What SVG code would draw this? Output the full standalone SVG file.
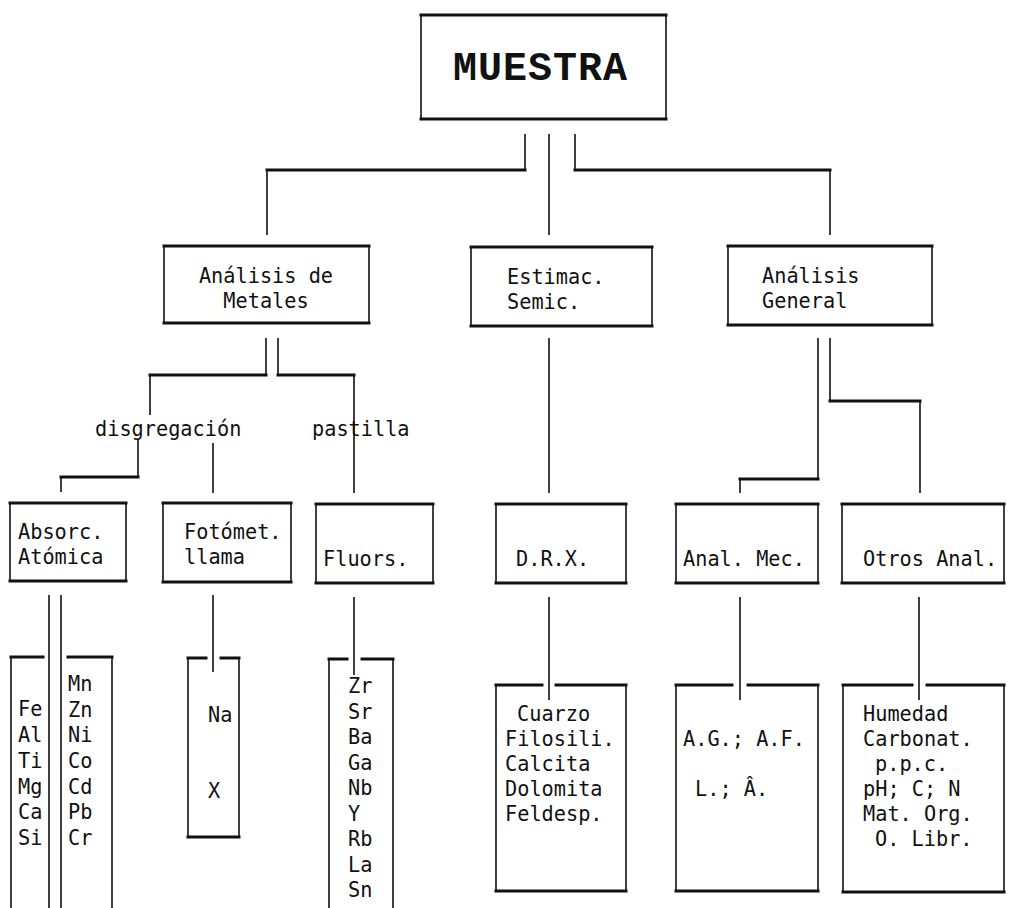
<svg xmlns="http://www.w3.org/2000/svg" width="1011" height="908" viewBox="0 0 1011 908">
<style>
  .bg{fill:#ffffff}
  .b{fill:none;stroke:#111;stroke-width:1.6}
  .hb{fill:none;stroke:#111;stroke-width:3;stroke-linecap:square}
  .v{fill:none;stroke:#111;stroke-width:1.6}
  .h{fill:none;stroke:#111;stroke-width:3;stroke-linecap:square}
  text{font-family:"DejaVu Sans Mono","Liberation Mono",monospace;font-size:21px;fill:#111}
  .t{font-family:"Liberation Mono","DejaVu Sans Mono",monospace;font-weight:bold;font-size:40px}
  .m{text-anchor:middle}
</style>
<rect class="bg" x="0" y="0" width="1011" height="908"/>

<g id="connectors">
  <path class="v" d="M525 134V170 M267 170V235 M549 134V235 M575 134V170 M830 170V235
    M266 338V375 M150 375V415 M278 338V375 M354 375V493 M138 440V477 M61 477V492 M213 443V493
    M549 338V493 M818 338V479 M740 479V493 M830 338V401 M920 401V493
    M49 595V908 M61 595V908 M213 595V672 M354 597V675 M549 597V700 M740 597V700 M919 597V700"/>
  <path class="h" d="M267 170H525 M575 170H830 M150 375H266 M278 375H354 M61 477H138 M740 479H818 M830 401H920"/>
  <text transform="translate(95 436) scale(0.965 1)">disgregación</text>
  <text transform="translate(312 436) scale(0.965 1)">pastilla</text>
</g>

<g id="muestra">
  <rect class="b" x="421" y="15" width="245" height="104"/>
  <path class="hb" d="M421 15H666 M421 119H666"/>
  <text class="t" x="453" y="80" letter-spacing="1">MUESTRA</text>
</g>

<g id="analisis-metales">
  <rect class="b" x="164" y="246" width="205" height="77"/>
  <path class="hb" d="M164 246H369 M164 323H369"/>
  <text class="m" transform="translate(266 283) scale(0.965 1)">Análisis de</text>
  <text class="m" transform="translate(266 308) scale(0.965 1)">Metales</text>
</g>

<g id="estimac">
  <rect class="b" x="471" y="247" width="181" height="79"/>
  <path class="hb" d="M471 247H652 M471 326H652"/>
  <text transform="translate(507 284) scale(0.965 1)">Estimac.</text>
  <text transform="translate(507 309) scale(0.965 1)">Semic.</text>
</g>

<g id="analisis-general">
  <rect class="b" x="728" y="246" width="204" height="79"/>
  <path class="hb" d="M728 246H932 M728 325H932"/>
  <text transform="translate(762 283) scale(0.965 1)">Análisis</text>
  <text transform="translate(762 308) scale(0.965 1)">General</text>
</g>

<g id="absorc">
  <rect class="b" x="10" y="503" width="116" height="78"/>
  <path class="hb" d="M10 503H126 M10 581H126"/>
  <text transform="translate(18 539) scale(0.965 1)">Absorc.</text>
  <text transform="translate(18 564) scale(0.965 1)">Atómica</text>
</g>

<g id="fotomet">
  <rect class="b" x="163" y="503" width="128" height="79"/>
  <path class="hb" d="M163 503H291 M163 582H291"/>
  <text transform="translate(184 539) scale(0.965 1)">Fotómet.</text>
  <text transform="translate(184 564) scale(0.965 1)">llama</text>
</g>

<g id="fluors">
  <rect class="b" x="316" y="504" width="117" height="79"/>
  <path class="hb" d="M316 504H433 M316 583H433"/>
  <text transform="translate(323 566) scale(0.965 1)">Fluors.</text>
</g>

<g id="drx">
  <rect class="b" x="496" y="504" width="130" height="79"/>
  <path class="hb" d="M496 504H626 M496 583H626"/>
  <text transform="translate(516 566) scale(0.965 1)">D.R.X.</text>
</g>

<g id="anal-mec">
  <rect class="b" x="676" y="504" width="142" height="79"/>
  <path class="hb" d="M676 504H818 M676 583H818"/>
  <text transform="translate(683 566) scale(0.965 1)">Anal. Mec.</text>
</g>

<g id="otros-anal">
  <rect class="b" x="842" y="504" width="162" height="79"/>
  <path class="hb" d="M842 504H1004 M842 583H1004"/>
  <text transform="translate(863 566) scale(0.965 1)">Otros Anal.</text>
</g>

<g id="list-fe">
  <path class="v" d="M11 657V908"/>
  <path class="hb" d="M11 657H43"/>
  <text transform="translate(18 716) scale(0.965 1)">Fe</text>
  <text transform="translate(18 742) scale(0.965 1)">Al</text>
  <text transform="translate(18 768) scale(0.965 1)">Ti</text>
  <text transform="translate(18 794) scale(0.965 1)">Mg</text>
  <text transform="translate(18 819) scale(0.965 1)">Ca</text>
  <text transform="translate(18 845) scale(0.965 1)">Si</text>
</g>

<g id="list-mn">
  <path class="v" d="M112 657V908"/>
  <path class="hb" d="M68 657H112"/>
  <text transform="translate(68 691) scale(0.965 1)">Mn</text>
  <text transform="translate(68 717) scale(0.965 1)">Zn</text>
  <text transform="translate(68 742) scale(0.965 1)">Ni</text>
  <text transform="translate(68 768) scale(0.965 1)">Co</text>
  <text transform="translate(68 794) scale(0.965 1)">Cd</text>
  <text transform="translate(68 819) scale(0.965 1)">Pb</text>
  <text transform="translate(68 845) scale(0.965 1)">Cr</text>
</g>

<g id="list-na">
  <path class="v" d="M188 658V837 M239 658V837"/>
  <path class="hb" d="M188 658H206 M221 658H239 M188 837H239"/>
  <text transform="translate(208 722) scale(0.965 1)">Na</text>
  <text transform="translate(208 798) scale(0.965 1)">X</text>
</g>

<g id="list-zr">
  <path class="v" d="M329 659V908 M393 659V908"/>
  <path class="hb" d="M329 659H347 M362 659H393"/>
  <text transform="translate(348 693) scale(0.965 1)">Zr</text>
  <text transform="translate(348 718.5) scale(0.965 1)">Sr</text>
  <text transform="translate(348 744) scale(0.965 1)">Ba</text>
  <text transform="translate(348 769.5) scale(0.965 1)">Ga</text>
  <text transform="translate(348 795) scale(0.965 1)">Nb</text>
  <text transform="translate(348 820.5) scale(0.965 1)">Y</text>
  <text transform="translate(348 846) scale(0.965 1)">Rb</text>
  <text transform="translate(348 871.5) scale(0.965 1)">La</text>
  <text transform="translate(348 897) scale(0.965 1)">Sn</text>
</g>

<g id="list-drx">
  <path class="v" d="M496 685V891 M626 685V891"/>
  <path class="hb" d="M496 685H542 M556 685H626 M496 891H626"/>
  <text transform="translate(517 721) scale(0.965 1)">Cuarzo</text>
  <text transform="translate(505 746) scale(0.965 1)">Filosili.</text>
  <text transform="translate(505 771) scale(0.965 1)">Calcita</text>
  <text transform="translate(505 796) scale(0.965 1)">Dolomita</text>
  <text transform="translate(505 821) scale(0.965 1)">Feldesp.</text>
</g>

<g id="list-mec">
  <path class="v" d="M676 685V891 M818 685V891"/>
  <path class="hb" d="M676 685H732 M748 685H818 M676 891H818"/>
  <text transform="translate(683 746) scale(0.965 1)">A.G.; A.F.</text>
  <text transform="translate(695 796) scale(0.965 1)">L.; Â.</text>
</g>

<g id="list-otros">
  <path class="v" d="M843 685V892 M1004 685V892"/>
  <path class="hb" d="M843 685H912 M927 685H1004 M843 892H1004"/>
  <text transform="translate(863 721) scale(0.965 1)">Humedad</text>
  <text transform="translate(863 746) scale(0.965 1)">Carbonat.</text>
  <text transform="translate(875 771) scale(0.965 1)">p.p.c.</text>
  <text transform="translate(863 796) scale(0.965 1)">pH; C; N</text>
  <text transform="translate(863 821) scale(0.965 1)">Mat. Org.</text>
  <text transform="translate(875 846) scale(0.965 1)">O. Libr.</text>
</g>
</svg>
